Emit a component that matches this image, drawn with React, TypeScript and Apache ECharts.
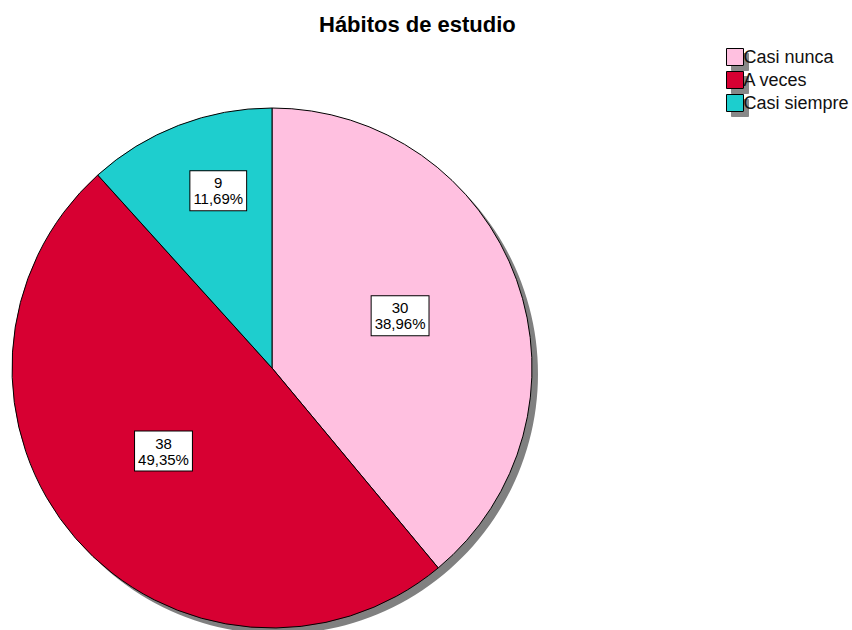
import React, { useEffect, useRef } from "react";
import * as echarts from "echarts";

const categories = ["Casi nunca", "A veces", "Casi siempre"];
const values = [30, 38, 9];
const colors = ["#FFC0E0", "#D70032", "#1ECECE"];
const titleText = "Hábitos de estudio";

export default function App() {
  const ref = useRef<HTMLDivElement>(null);
  useEffect(() => {
    document.body.style.margin = "0";
    const chart = echarts.init(ref.current!, null, { renderer: "svg" });
    const total = values.reduce((a, b) => a + b, 0);
    const data = categories.map((name, i) => ({
      name,
      value: values[i],
      itemStyle: { color: colors[i] },
    }));
    chart.setOption({
      animation: false,
      backgroundColor: "#fff",
      title: {
        text: titleText,
        left: 314,
        top: 8,
        textStyle: {
          fontFamily: "Arial, Liberation Sans",
          fontSize: 22,
          fontWeight: "bold",
          color: "#000",
        },
      },
      legend: {
        orient: "vertical",
        left: 721,
        top: 43,
        itemWidth: 17,
        itemHeight: 17,
        itemGap: 5,
        data: categories,
        icon: "rect",
        itemStyle: {
          borderColor: "#000",
          borderWidth: 1,
          shadowColor: "#888",
          shadowOffsetX: 5,
          shadowOffsetY: 5,
          shadowBlur: 0,
        },
        textStyle: {
          fontFamily: "Arial, Liberation Sans",
          fontSize: 18,
          color: "#111",
          padding: [0, 0, 0, -5],
        },
      },
      series: [
        {
          type: "pie",
          silent: true,
          center: [278, 374],
          radius: 260,
          startAngle: 90,
          label: { show: false },
          labelLine: { show: false },
          itemStyle: { color: "#808080", borderWidth: 0 },
          data: [{ name: "shadow", value: total }],
          legendHoverLink: false,
          z: 1,
        },
        {
          type: "pie",
          center: [272, 368],
          radius: 260,
          startAngle: 90,
          clockwise: true,
          z: 2,
          itemStyle: { borderColor: "#000", borderWidth: 1 },
          label: {
            show: true,
            position: "inside",
            formatter: (p: any) =>
              `${p.value}\n${p.percent.toFixed(2).replace(".", ",")}%`,
            fontFamily: "Arial, Liberation Sans",
            fontSize: 15,
            lineHeight: 16,
            color: "#000",
            backgroundColor: "#fff",
            borderColor: "#000",
            borderWidth: 1,
            padding: [4, 3, 3, 3],
            align: "center",
          },
          labelLayout: (p: any) =>
            p.dataIndex === 2 ? { dx: -6, dy: -53 } : p.dataIndex === 0 ? { dx: 3, dy: -7 } : { dx: -8, dy: -4 },
          labelLine: { show: false },
          emphasis: { disabled: true },
          data,
        },
      ],
    });
    return () => chart.dispose();
  }, []);
  return <div ref={ref} style={{ width: 852, height: 630 }} />;
}
